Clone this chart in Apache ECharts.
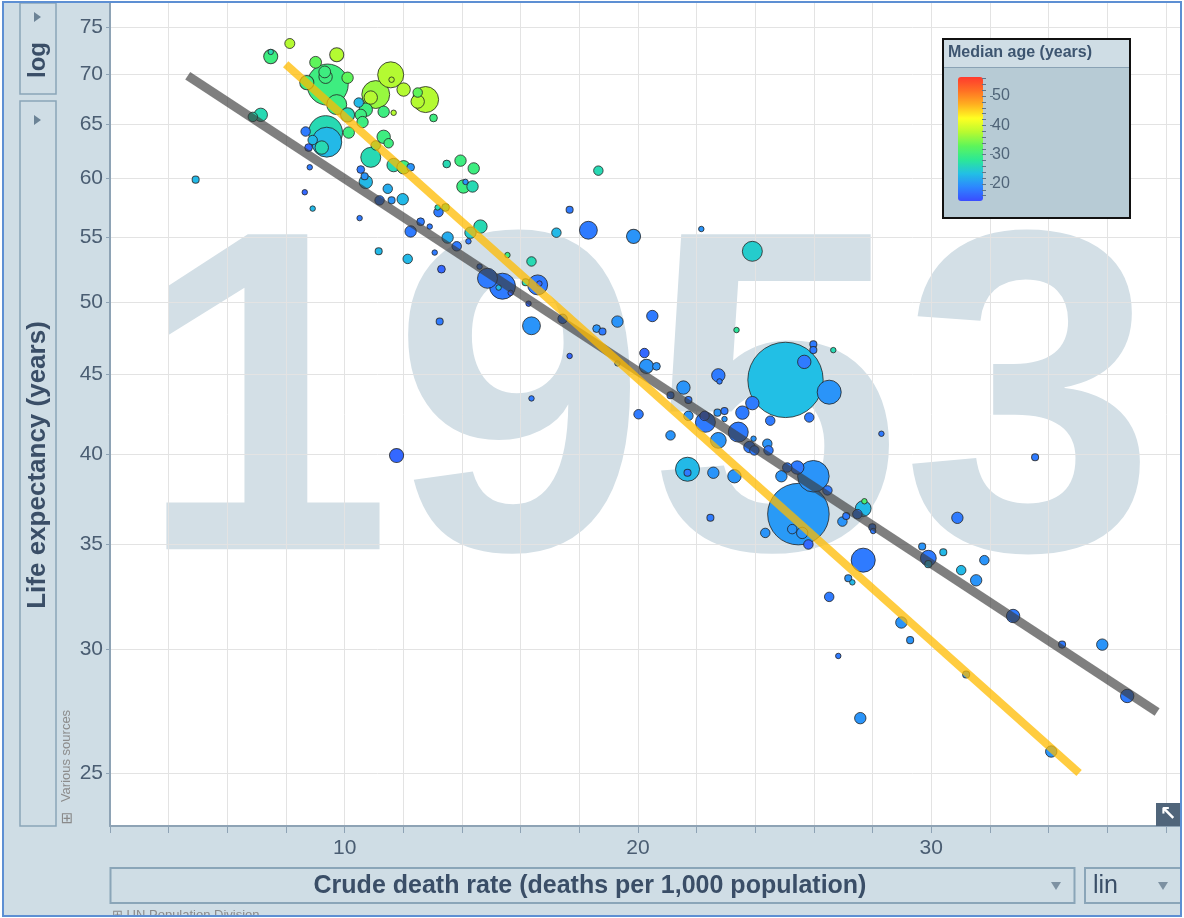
<!DOCTYPE html>
<html>
<head>
<meta charset="utf-8">
<script src="https://cdn.jsdelivr.net/npm/echarts@6/dist/echarts.min.js"></script>
<style>
html,body{margin:0;padding:0;background:#ffffff;}
#c{width:1184px;height:918px;}
</style>
</head>
<body>
<div id="c"></div>
<script>
// ---- data (crude death rate, life expectancy, population in millions, median age) ----
const deathRate = [
  7.48, 7.48, 8.13, 9.73, 9.01, 9.42, 9.32, 9.35, 8.71, 10.10,
  9.73, 10.10, 10.48, 10.55, 10.72, 10.61, 11.57, 11.60, 11.06, 10.89,
  12.01, 12.76, 12.49, 12.49, 11.67, 11.33, 13.03, 9.35, 9.39, 9.22,
  8.91, 8.67, 8.77, 10.14, 10.89, 11.33, 11.50, 11.06, 11.67, 12.01,
  12.25, 10.55, 10.68, 10.72, 8.81, 8.64, 8.91, 10.51, 11.19, 11.60,
  11.98, 11.47, 13.20, 13.17, 13.44, 13.48, 13.95, 14.40, 14.05, 14.36,
  14.12, 12.59, 12.90, 14.63, 6.87, 7.14, 4.92, 12.25, 11.16, 12.15,
  13.07, 13.30, 13.51, 13.82, 13.24, 11.77, 14.29, 14.22, 14.60, 15.55,
  16.37, 17.22, 17.67, 18.31, 19.85, 14.87, 15.38, 15.25, 15.66, 16.17,
  16.58, 16.64, 16.27, 16.37, 17.43, 18.59, 18.79, 19.30, 20.49, 17.67,
  16.37, 18.65, 22.16, 23.90, 19.30, 20.22, 20.29, 20.63, 20.02, 22.74,
  22.78, 21.55, 21.11, 21.72, 21.72, 21.11, 22.27, 22.30, 22.74, 22.71,
  22.95, 22.95, 23.56, 23.90, 23.42, 23.94, 23.80, 23.97, 24.41, 24.45,
  24.51, 25.03, 25.67, 25.98, 25.98, 26.66, 26.52, 25.84, 28.30, 21.69,
  21.69, 22.57, 23.29, 24.89, 25.09, 25.43, 25.98, 26.46, 25.47, 25.26,
  25.60, 25.81, 24.34, 22.47, 27.68, 27.72, 27.10, 26.97, 27.48, 27.99,
  28.02, 27.68, 27.17, 27.31, 26.52, 26.83, 27.58, 28.98, 29.28, 31.19,
  30.89, 29.69, 29.90, 29.90, 30.41, 31.81, 31.02, 31.53, 32.79, 33.54,
  34.46, 35.83, 36.68, 34.09, 23.36
];
const lifeExp = [
  71.8, 72.3, 73.2, 72.0, 71.2, 68.9, 70.2, 69.7, 69.1, 69.6,
  66.9, 65.9, 67.1, 65.9, 66.4, 65.2, 69.9, 69.4, 67.9, 67.6,
  68.4, 67.4, 68.1, 67.2, 66.1, 66.2, 65.6, 64.2, 63.3, 62.8,
  63.5, 64.3, 62.8, 64.2, 61.9, 63.8, 63.2, 63.0, 61.2, 61.0,
  61.0, 60.8, 60.2, 59.7, 61.0, 58.8, 57.4, 56.6, 58.1, 58.1,
  58.2, 59.1, 57.1, 57.5, 57.5, 61.3, 61.6, 60.9, 59.3, 59.3,
  59.7, 56.3, 55.9, 55.9, 65.7, 65.9, 59.9, 55.5, 53.9, 53.3,
  53.8, 52.5, 55.0, 54.3, 48.6, 39.9, 55.4, 54.7, 52.7, 53.6,
  53.1, 55.4, 57.3, 55.6, 55.1, 51.8, 51.2, 51.1, 50.7, 51.5,
  51.3, 51.4, 49.9, 48.3, 48.8, 48.1, 47.9, 48.6, 49.0, 46.2,
  43.4, 60.7, 55.7, 53.9, 45.7, 46.4, 45.5, 45.5, 42.4, 44.9,
  44.5, 44.1, 43.6, 43.3, 42.3, 41.1, 42.3, 41.9, 40.8, 42.5,
  42.6, 42.1, 42.5, 43.1, 41.3, 40.9, 40.4, 40.2, 40.6, 40.2,
  42.0, 44.6, 45.8, 47.0, 46.6, 46.6, 43.8, 42.2, 41.2, 39.1,
  38.9, 38.9, 38.7, 38.7, 39.2, 39.2, 38.7, 37.9, 36.6, 35.8,
  35.6, 35.0, 35.6, 36.4, 36.9, 37.3, 36.5, 36.2, 36.6, 35.9,
  35.7, 34.2, 33.3, 33.1, 32.4, 29.7, 27.1, 31.2, 30.4, 28.9,
  36.4, 34.9, 34.3, 34.0, 34.6, 34.2, 33.7, 33.2, 31.5, 39.8,
  30.2, 30.2, 28.0, 25.8, 48.0
];
const population = [
  20, 3, 10, 20, 14, 170, 14, 18, 20, 13,
  40, 20, 9, 13, 18, 13, 68, 3, 78, 18,
  18, 68, 9, 18, 3, 13, 6, 115, 90, 18,
  9, 9, 6, 13, 40, 18, 9, 9, 18, 18,
  6, 6, 5, 18, 3, 3, 3, 3, 9, 5,
  13, 9, 9, 3, 6, 6, 13, 13, 18, 13,
  3, 6, 3, 18, 9, 18, 5, 13, 5, 9,
  3, 6, 13, 9, 5, 20, 13, 3, 3, 3,
  9, 9, 5, 32, 20, 40, 68, 3, 3, 5,
  40, 3, 3, 32, 9, 6, 5, 13, 13, 3,
  3, 9, 3, 40, 3, 9, 20, 6, 9, 18,
  3, 18, 5, 5, 9, 9, 9, 40, 25, 5,
  5, 3, 18, 18, 40, 3, 13, 9, 9, 9,
  9, 570, 18, 5, 5, 3, 58, 9, 3, 58,
  5, 13, 18, 13, 9, 18, 100, 9, 380, 9,
  13, 9, 9, 5, 25, 3, 5, 9, 9, 5,
  3, 58, 5, 3, 9, 3, 13, 13, 5, 5,
  13, 5, 25, 5, 5, 9, 9, 13, 18, 5,
  5, 13, 18, 13, 3
];
const medianAge = [
  30, 26.5, 37.5, 37.5, 33, 30, 30, 30, 30, 33,
  30, 26.5, 23, 30, 30, 30, 37.5, 37.5, 36, 37.5,
  37.5, 37.5, 33, 37.5, 37.5, 30, 30, 26.5, 23, 26.5,
  23, 18, 16.5, 30, 26.5, 30, 30, 28, 26.5, 30,
  20, 18, 20, 23, 18, 16.5, 23, 18, 18, 20,
  23, 22, 18, 26.5, 28, 26.5, 30, 30, 30, 26.5,
  20, 18, 18, 26.5, 26.5, 26.5, 23, 18, 23, 23,
  18, 16.5, 22, 18, 18, 16.5, 25, 18, 18, 30,
  26.5, 23, 18, 18, 20, 18, 18, 23, 16.5, 26.5,
  18, 16.5, 16.5, 20, 18, 20, 18, 20, 18, 16.5,
  18, 26.5, 20, 25, 20, 16.5, 20, 20, 18, 18,
  18, 20, 18, 18, 20, 20, 16.5, 18, 20, 20,
  18, 20, 18, 18, 18, 20, 18, 18, 20, 18,
  18, 23.5, 18, 18, 18, 26.5, 20, 18, 18, 23,
  18, 20, 20, 20, 18, 18, 20, 18, 20.5, 20,
  20, 16.5, 20, 18, 23, 31, 18, 20, 18, 18,
  18, 18, 20, 23, 18, 18, 20, 20, 20, 20,
  18, 20, 18, 23, 23, 20, 23, 20, 18, 18,
  18, 20, 18, 20, 28
];

// trend lines (two end points each)
const grayTrendX = [4.65, 37.70];
const grayTrendY = [69.8, 27.35];
const yellowTrendX = [7.99, 35.04];
const yellowTrendY = [71.0, 25.0];

// axis ticks / labels
const yTickValues = [25, 30, 35, 40, 45, 50, 55, 60, 65, 70, 75];
const xLabelValues = [10, 20, 30];
const ageTickValues = [16, 18, 20, 22, 24, 26, 28, 30, 32, 34, 36, 38, 40, 42, 44, 46, 48, 50, 52, 54, 56];
const ageLabelValues = [20, 30, 40, 50];
const ageColors = ['#3a4cff', '#2d86ff', '#22c0e4', '#2ce895', '#5ef55a', '#b8fa30', '#ffff22', '#ffb020', '#ff7024', '#ff3a2e'];

const yearText = '1953';
const xTitle = 'Crude death rate (deaths per 1,000 population)';
const yTitle = 'Life expectancy (years)';
const legendTitle = 'Median age (years)';

// ---- build ----
const order = deathRate.map((_, i) => i).sort((a, b) => population[b] - population[a]);
const points = order.map(i => [deathRate[i], lifeExp[i], medianAge[i], population[i]]);
const grayLine = grayTrendX.map((x, i) => [x, grayTrendY[i]]);
const yellowLine = yellowTrendX.map((x, i) => [x, yellowTrendY[i]]);

const FF = '"Liberation Sans", Arial, Helvetica, sans-serif';
const AX = '#8ea3b5';
const LBL = '#4a5d72';
const TITLE = '#3a4e67';
const BOX = '#8aa5b8';

const chart = echarts.init(document.getElementById('c'), null, { renderer: 'canvas' });

const option = {
  animation: false,
  backgroundColor: '#ffffff',
  textStyle: { fontFamily: FF },
  grid: [
    { left: 110, top: 3, right: 4, bottom: 92, show: false, outerBoundsMode: 'none' },
    { left: 982, top: 77, width: 1, height: 124, show: false, outerBoundsMode: 'none' }
  ],
  xAxis: [
    {
      type: 'value', gridIndex: 0, min: 2, max: 38.48, interval: 2,
      axisLine: { show: true, onZero: false, lineStyle: { color: AX, width: 2 } },
      axisTick: { show: true, length: 7, lineStyle: { color: AX, width: 1 } },
      axisLabel: { customValues: xLabelValues, fontSize: 21, color: LBL, margin: 12, fontFamily: FF },
      splitLine: { show: true, lineStyle: { color: '#e3e3e3', width: 1 } }
    },
    { type: 'value', gridIndex: 1, show: false, min: 0, max: 1 }
  ],
  yAxis: [
    {
      type: 'log', logBase: 10, gridIndex: 0, min: 23.12, max: 77.7,
      axisLine: { show: true, lineStyle: { color: AX, width: 2 } },
      axisTick: { show: true, length: 4, customValues: yTickValues, lineStyle: { color: AX, width: 1 } },
      axisLabel: { customValues: yTickValues, fontSize: 21, color: LBL, margin: 7, fontFamily: FF },
      splitLine: { show: true, lineStyle: { color: '#e3e3e3', width: 1 } }
    },
    {
      type: 'value', gridIndex: 1, position: 'right', min: 14.2, max: 56.5, z: 9,
      axisLine: { show: false },
      axisTick: { show: true, inside: false, length: 4, customValues: ageTickValues, lineStyle: { color: '#5f7588', width: 1 } },
      axisLabel: { show: false },
      splitLine: { show: false }
    },
    {
      type: 'value', gridIndex: 1, position: 'right', offset: 7, min: 14.2, max: 56.5, z: 9,
      axisLine: { show: false },
      axisTick: { show: true, inside: false, length: 3, customValues: ageLabelValues, lineStyle: { color: '#5f7588', width: 1 } },
      axisLabel: { customValues: ageLabelValues, fontSize: 16, color: '#4f6478', margin: 2, fontFamily: FF },
      splitLine: { show: false }
    }
  ],
  visualMap: [{
    type: 'continuous', seriesIndex: 0, dimension: 2, min: 14.2, max: 56.5,
    inRange: { color: ageColors },
    left: 958, top: 77, itemWidth: 25, itemHeight: 124, padding: 0,
    calculable: false, hoverLink: false, orient: 'vertical', z: 8
  }],
  series: [
    {
      type: 'scatter', xAxisIndex: 0, yAxisIndex: 0, data: points, z: 2,
      symbolSize: d => 2 * 1.578 * Math.sqrt(d[3]),
      itemStyle: { borderColor: 'rgba(35,35,35,0.8)', borderWidth: 1, opacity: 1 },
      emphasis: { disabled: true }, silent: true
    },
    {
      type: 'line', xAxisIndex: 0, yAxisIndex: 0, data: grayLine, z: 3, symbol: 'none', silent: true,
      lineStyle: { color: '#3a3a3a', width: 9, opacity: 0.65, cap: 'butt' }
    },
    {
      type: 'line', xAxisIndex: 0, yAxisIndex: 0, data: yellowLine, z: 4, symbol: 'none', silent: true,
      lineStyle: { color: '#ffbb00', width: 8, opacity: 0.75, cap: 'butt' }
    }
  ],
  graphic: [
    // page background
    { type: 'rect', z: -30, silent: true, shape: { x: 3, y: 2, width: 1178, height: 914 }, style: { fill: '#cfdde5' } },
    // plot area
    { type: 'rect', z: -25, silent: true, shape: { x: 110, y: 3, width: 1070, height: 823 }, style: { fill: '#ffffff' } },
    // year watermark
    { type: 'text', z: -20, silent: true, x: 647, y: 423,
      style: { text: yearText, font: 'bold 458px ' + FF, fill: '#d3dfe6', align: 'center', verticalAlign: 'middle', textAlign: 'center', textVerticalAlign: 'middle' } },
    // left controls
    { type: 'rect', z: 5, silent: true, shape: { x: 20, y: 3, width: 36, height: 91 }, style: { fill: 'none', stroke: BOX, lineWidth: 1.5 } },
    { type: 'polygon', z: 5, silent: true, shape: { points: [[34, 12], [41, 17], [34, 22]] }, style: { fill: '#6c8396' } },
    { type: 'text', z: 5, silent: true, x: 38, y: 60, rotation: Math.PI / 2,
      style: { text: 'log', font: 'bold 24px ' + FF, fill: TITLE, align: 'center', verticalAlign: 'middle', textAlign: 'center', textVerticalAlign: 'middle' } },
    { type: 'rect', z: 5, silent: true, shape: { x: 20, y: 101, width: 36, height: 725 }, style: { fill: 'none', stroke: BOX, lineWidth: 1.5 } },
    { type: 'polygon', z: 5, silent: true, shape: { points: [[34, 115], [41, 120], [34, 125]] }, style: { fill: '#6c8396' } },
    { type: 'text', z: 5, silent: true, x: 38, y: 465, rotation: Math.PI / 2,
      style: { text: yTitle, font: 'bold 26px ' + FF, fill: TITLE, align: 'center', verticalAlign: 'middle', textAlign: 'center', textVerticalAlign: 'middle' } },
    { type: 'text', z: 5, silent: true, x: 66, y: 756, rotation: Math.PI / 2,
      style: { text: 'Various sources', font: '13px ' + FF, fill: '#8c8c8c', align: 'center', verticalAlign: 'middle', textAlign: 'center', textVerticalAlign: 'middle' } },
    { type: 'text', z: 5, silent: true, x: 67, y: 819,
      style: { text: '\u229E', font: '15px "DejaVu Sans"', fill: '#8a8a8a', align: 'center', verticalAlign: 'middle', textAlign: 'center', textVerticalAlign: 'middle' } },
    // bottom controls
    { type: 'rect', z: 5, silent: true, shape: { x: 110.5, y: 868, width: 964, height: 35 }, style: { fill: 'none', stroke: BOX, lineWidth: 2 } },
    { type: 'text', z: 5, silent: true, x: 590, y: 886,
      style: { text: xTitle, font: 'bold 25px ' + FF, fill: TITLE, align: 'center', verticalAlign: 'middle', textAlign: 'center', textVerticalAlign: 'middle' } },
    { type: 'polygon', z: 5, silent: true, shape: { points: [[1051, 882], [1061, 882], [1056, 890]] }, style: { fill: '#7d91a2' } },
    { type: 'rect', z: 5, silent: true, shape: { x: 1085, y: 868, width: 96, height: 35 }, style: { fill: 'none', stroke: BOX, lineWidth: 2 } },
    { type: 'text', z: 5, silent: true, x: 1093, y: 886,
      style: { text: 'lin', font: '25px ' + FF, fill: TITLE, align: 'left', verticalAlign: 'middle', textAlign: 'left', textVerticalAlign: 'middle' } },
    { type: 'polygon', z: 5, silent: true, shape: { points: [[1158, 882], [1168, 882], [1163, 890]] }, style: { fill: '#7d91a2' } },
    { type: 'text', z: 5, silent: true, x: 112, y: 915,
      style: { text: '\u229E UN Population Division', font: '13px ' + FF, fill: '#8a8a8a', align: 'left', verticalAlign: 'middle', textAlign: 'left', textVerticalAlign: 'middle' } },
    // corner button
    { type: 'rect', z: 6, silent: true, shape: { x: 1156, y: 803, width: 24, height: 23 }, style: { fill: '#50657a' } },
    { type: 'text', z: 6, silent: true, x: 1168, y: 815,
      style: { text: '\u2196', font: 'bold 20px "DejaVu Sans"', fill: '#ffffff', align: 'center', verticalAlign: 'middle', textAlign: 'center', textVerticalAlign: 'middle' } },
    // legend box
    { type: 'rect', z: 7, silent: true, shape: { x: 943, y: 39, width: 187, height: 179 }, style: { fill: '#b7cbd5', stroke: '#111111', lineWidth: 2 } },
    { type: 'rect', z: 7, silent: true, shape: { x: 944, y: 40, width: 185, height: 27 }, style: { fill: '#cfdde5' } },
    { type: 'line', z: 7, silent: true, shape: { x1: 944, y1: 67.5, x2: 1129, y2: 67.5 }, style: { stroke: '#8aa2b4', lineWidth: 1 } },
    { type: 'text', z: 7, silent: true, x: 948, y: 53,
      style: { text: legendTitle, font: 'bold 16px ' + FF, fill: '#3d5570', align: 'left', verticalAlign: 'middle', textAlign: 'left', textVerticalAlign: 'middle' } },
    // outer border + bottom cover
    { type: 'rect', z: 50, silent: true, shape: { x: 0, y: 917, width: 1184, height: 2 }, style: { fill: '#ffffff' } },
    { type: 'rect', z: 51, silent: true, shape: { x: 3, y: 2, width: 1178, height: 914 }, style: { fill: 'none', stroke: '#5d8fd3', lineWidth: 2 } }
  ]
};
chart.setOption(option);
</script>
</body>
</html>
